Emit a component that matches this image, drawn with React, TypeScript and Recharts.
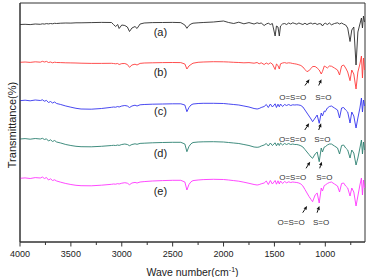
import React from 'react';
import {
  LineChart,
  Line,
  XAxis,
  YAxis,
  ReferenceArea,
  ReferenceDot,
  ReferenceLine,
} from 'recharts';

// Wavenumber grid (cm-1), shared by all five spectra
const WAVENUMBERS = [
  4000, 3950, 3900, 3850, 3800, 3780, 3760, 3740, 3720, 3700,
  3680, 3660, 3640, 3600, 3550, 3500, 3450, 3400, 3300, 3200,
  3100, 3082, 3060, 3040, 3026, 3000, 2970, 2945, 2924, 2900,
  2870, 2850, 2820, 2780, 2700, 2600, 2500, 2420, 2380, 2360,
  2340, 2320, 2300, 2250, 2200, 2100, 2000, 1950, 1900, 1850,
  1800, 1750, 1700, 1670, 1650, 1630, 1601, 1580, 1560, 1540,
  1520, 1493, 1480, 1465, 1452, 1440, 1420, 1400, 1380, 1360,
  1340, 1320, 1300, 1280, 1260, 1240, 1220, 1200, 1180, 1160,
  1140, 1125, 1100, 1080, 1060, 1040, 1028, 1010, 1000, 980,
  960, 940, 910, 880, 860, 840, 820, 800, 780, 757,
  740, 720, 698, 680, 660, 645, 635, 625, 615,
];

// Transmittance (offset, arbitrary units) of each sample
const SPECTRUM_A = [
  217.5, 217.7, 217.4, 218, 217.7, 218.2, 217.9, 218.4, 218.1, 218.5,
  218.2, 218.7, 218.5, 218.8, 219, 218.9, 219.2, 219.2, 219.4, 219.6,
  219.5, 217.5, 215.5, 217.5, 213.5, 217, 216.5, 215, 210.5, 214,
  215.5, 213.5, 218, 219, 219.4, 219.5, 219.6, 219.4, 217, 213.7,
  216.5, 218, 218.8, 219.2, 219.5, 220, 221, 219.5, 218.5, 219.8,
  218.2, 219.4, 218, 219.2, 218.5, 219, 216.5, 218, 218.8, 217.5,
  218.5, 206, 216, 215, 206, 216, 218, 218.5, 217.5, 219,
  218, 219.2, 218.5, 217.8, 219, 218.2, 217.5, 218.8, 217.4, 218.5,
  219, 218, 218.8, 217.5, 218.4, 218, 216, 218.4, 218.8, 217.5,
  219, 217.2, 218.5, 219.2, 218, 219, 217.8, 217, 214, 200.5,
  212, 215, 177, 210, 218, 224, 214, 226, 220,
];

const SPECTRUM_B = [
  179.7, 180, 179.6, 180.2, 179.8, 180.7, 180, 180.6, 179.5, 180,
  179.2, 179.8, 179.5, 179.4, 179.2, 179.1, 179, 178.8, 178.6, 178.6,
  178.7, 178.5, 178.2, 178.5, 177.5, 178.4, 178.5, 177.5, 174.7, 177,
  177.8, 177, 178.6, 179, 179.2, 179.4, 179.5, 179.4, 178, 173,
  176, 177.5, 178.8, 179.7, 180, 180.3, 180.2, 180, 179.7, 179.5,
  179.2, 179.4, 178.8, 179.5, 178.2, 179.2, 177.5, 179, 177.8, 179.2,
  178, 172.5, 178, 176.5, 173, 178.2, 179, 179.4, 178.8, 179.2,
  179, 178.5, 178.2, 177.8, 177.2, 176.5, 175, 172.5, 170.3, 171.5,
  173.5, 175.5, 175.5, 174, 172, 168, 170.5, 176, 175.5, 174,
  176, 175.8, 174, 172, 167, 176, 177, 174, 170, 161.3,
  172, 168, 153, 170, 178, 186, 164, 184, 172,
];

const SPECTRUM_C = [
  141.3, 141.8, 141.2, 142, 141.5, 142.2, 140.8, 141.6, 139.5, 140.5,
  139, 140, 138.5, 137.5, 136, 134.8, 133.7, 133, 132.8, 133.5,
  134.7, 135, 134.8, 135.5, 135, 136, 136.5, 136, 134.5, 136,
  136.8, 136, 137.2, 137.5, 137.8, 138, 138.2, 138.2, 137, 130.3,
  134.5, 137, 138, 138.5, 138.7, 138.7, 138.5, 138, 137.5, 137,
  136, 135, 133.5, 133, 133.5, 134.5, 135.5, 137.5, 134.5, 138,
  135, 138.2, 134.5, 137.8, 135.2, 138, 135.5, 137.5, 136.5, 137.5,
  136.5, 137.2, 137, 137.2, 137, 136.5, 135, 132, 129, 126,
  123, 120.3, 124, 127, 118.7, 129, 126, 131, 130.3, 134,
  135.5, 136, 134, 132, 124, 134, 134.5, 132, 130, 119,
  130, 126, 114, 124, 134, 144, 130, 142, 136,
];

const SPECTRUM_D = [
  103, 103.4, 102.8, 103.5, 103, 103.7, 102.5, 103.2, 101, 102.2,
  100.5, 101.5, 100, 99, 97.5, 96.5, 95.7, 95.3, 95.2, 95.7,
  96.5, 96.7, 96.5, 97, 96.6, 97.5, 98, 97.5, 96.3, 97.5,
  98.2, 97.7, 98.6, 98.8, 99.2, 99.5, 99.7, 99.7, 98, 90.3,
  95.5, 98.2, 99.5, 100, 100.2, 100.3, 100, 99.5, 99, 98.5,
  97.5, 96.5, 95, 94.7, 95, 96, 97, 98.5, 96, 99,
  96.5, 99.2, 96.2, 98.8, 96.5, 99, 97, 98.5, 97.5, 98.5,
  97.5, 98, 97.5, 97.5, 97, 96.2, 95, 92.5, 90, 87.5,
  85, 83.7, 88, 90, 80.3, 94, 90, 95, 95.3, 97,
  98, 98, 96, 94, 88, 96.5, 97, 94, 92, 84,
  92, 89, 77, 84, 94, 102, 88, 100, 92,
];

const SPECTRUM_E = [
  63.7, 64.1, 63.5, 64.4, 64, 65, 63.5, 64.5, 62, 63.2,
  61.5, 62.2, 61, 59.8, 58.5, 57.5, 56.7, 56.3, 56.2, 56.8,
  57.7, 58, 57.8, 58.4, 58, 58.8, 59.3, 58.8, 57.3, 59,
  59.6, 59, 60, 60.4, 61, 61.4, 61.7, 61.7, 60, 52,
  57.5, 60.2, 61.4, 62, 62.4, 62.7, 62.5, 62, 61.4, 60.8,
  59.8, 58.7, 57.5, 57, 57.4, 58.2, 59, 61, 57.5, 61.5,
  58, 61.5, 57.8, 61.2, 58, 61, 58.5, 60.5, 59.2, 60.2,
  59.5, 60, 59.7, 59.5, 59, 58, 56, 52.5, 49, 45.5,
  42.5, 40.3, 47, 49, 39, 54, 51, 56.5, 57, 58.5,
  59.5, 60, 58, 56, 50, 58.5, 59, 56, 54, 46,
  54, 50, 36, 46, 57, 64, 47, 62, 54,
];

const SAMPLE_KEYS = ['a', 'b', 'c', 'd', 'e'];
const SAMPLE_LABELS = ['(a)', '(b)', '(c)', '(d)', '(e)'];
const SAMPLE_VALUES = [SPECTRUM_A, SPECTRUM_B, SPECTRUM_C, SPECTRUM_D, SPECTRUM_E];
const SAMPLE_COLORS = ['#2b2b2b', '#ff3b3b', '#3434ee', '#2b8070', '#ff36ff'];

// Where the sample tags sit (wavenumber, transmittance)
const TAG_WAVENUMBER = 2620;
const TAG_LEVELS = [210, 170, 131, 89.3, 51.3];

const X_TICKS = [4000, 3750, 3500, 3250, 3000, 2750, 2500, 2250, 2000, 1750, 1500, 1250, 1000, 750];

// Sulfonic-group band callouts for samples (b)-(e): text anchor and arrow tail -> tip
const BAND_NAMES = ['O=S=O', 'S=O'];
const BAND_TEXT = [
  [[1320, 145.5], [1019, 145.5]],
  [[1323, 103], [1029, 103]],
  [[1320, 64.7], [1009, 64.7]],
  [[1336, 20.3], [1041, 20.3]],
];
const BAND_ARROWS = [
  [[1200, 156.5, 1156, 162.7], [1065, 156.5, 1038, 162.7]],
  [[1202, 112, 1159, 118.7], [1065, 112, 1041, 118.7]],
  [[1189, 73.7, 1149, 80.3], [1055, 73.7, 1035, 80.3]],
  [[1222, 29.3, 1179, 36], [1081, 29.3, 1058, 36]],
];

const FONT = '"Liberation Sans", Arial, Helvetica, sans-serif';

const rows = WAVENUMBERS.map((w, i) => {
  const row: Record<string, number> = { w };
  SAMPLE_KEYS.forEach((k, s) => {
    row[k] = SAMPLE_VALUES[s][i];
  });
  return row;
});

const WaveTick = (props: any) => {
  const { x, y, payload } = props;
  const major = payload.value % 500 === 0;
  return (
    <g>
      <line x1={x} y1={y} x2={x} y2={y + (major ? 4.5 : 3)} stroke="#333" strokeWidth={1} />
      {major && (
        <text x={x} y={y + 15} textAnchor="middle" fontSize={9} fontFamily={FONT} fill="#222">
          {payload.value}
        </text>
      )}
    </g>
  );
};

const XTitle = (props: any) => {
  const vb = props.viewBox;
  return (
    <text
      x={vb.x + vb.width / 2}
      y={vb.y + 33.5}
      textAnchor="middle"
      fontSize={10.5}
      fontFamily={FONT}
      fill="#222"
    >
      Wave number(cm
      <tspan dy={-4} fontSize={7}>-1</tspan>
      <tspan dy={4}>)</tspan>
    </text>
  );
};

const YTitle = (props: any) => {
  const vb = props.viewBox;
  const cx = 15.5;
  const cy = vb.y + vb.height / 2 + 2.5;
  return (
    <text
      x={cx}
      y={cy}
      transform={`rotate(-90, ${cx}, ${cy})`}
      textAnchor="middle"
      fontSize={11}
      fontFamily={FONT}
      fill="#222"
    >
      Transmittance(%)
    </text>
  );
};

const Arrow = (props: any) => {
  const { x1, y1, x2, y2 } = props;
  const dx = x2 - x1;
  const dy = y2 - y1;
  const len = Math.sqrt(dx * dx + dy * dy) || 1;
  const ux = dx / len;
  const uy = dy / len;
  const head = 3.8;
  const half = 1.7;
  const bx = x2 - ux * head;
  const by = y2 - uy * head;
  return (
    <g>
      <line x1={x1} y1={y1} x2={bx} y2={by} stroke="#111" strokeWidth={1} />
      <polygon
        points={`${x2},${y2} ${bx - uy * half},${by + ux * half} ${bx + uy * half},${by - ux * half}`}
        fill="#111"
      />
    </g>
  );
};

export default function App() {
  return (
    <div style={{ position: 'absolute', left: 0, top: 0, width: 367, height: 277, background: '#fff' }}>
      <LineChart
        width={367}
        height={277}
        data={rows}
        margin={{ top: 3, right: 2, bottom: 0, left: 0 }}
      >
        <XAxis
          dataKey="w"
          type="number"
          domain={[610, 4000]}
          reversed
          ticks={X_TICKS}
          interval={0}
          height={35}
          tickSize={0}
          tickMargin={0}
          tickLine={false}
          tick={<WaveTick />}
          axisLine={{ stroke: '#333', strokeWidth: 1 }}
          allowDataOverflow
          label={{ content: <XTitle /> }}
        />
        <YAxis
          type="number"
          domain={[0, 239]}
          width={20}
          tick={false}
          tickLine={false}
          axisLine={{ stroke: '#333', strokeWidth: 1 }}
          allowDataOverflow
          label={{ content: <YTitle /> }}
        />
        <ReferenceArea x1={610} x2={4000} y1={0} y2={239} fill="none" stroke="#333" strokeWidth={1} />
        {SAMPLE_KEYS.map((k, s) => (
          <Line
            key={k}
            dataKey={k}
            type="linear"
            stroke={SAMPLE_COLORS[s]}
            strokeWidth={0.9}
            dot={false}
            isAnimationActive={false}
          />
        ))}
        {SAMPLE_LABELS.map((lab, s) => (
          <ReferenceDot
            key={lab}
            x={TAG_WAVENUMBER}
            y={TAG_LEVELS[s]}
            r={0}
            shape={(p: any) => (
              <text
                x={p.cx}
                y={p.cy}
                dy={4}
                textAnchor="middle"
                fontSize={11}
                fontFamily={FONT}
                fill="#222"
              >
                {lab}
              </text>
            )}
          />
        ))}
        {BAND_TEXT.map((pair, s) =>
          pair.map(([w, t], b) => (
            <ReferenceDot
              key={`t${s}${b}`}
              x={w}
              y={t}
              r={0}
              shape={(p: any) => (
                <text
                  x={p.cx}
                  y={p.cy}
                  dy={3}
                  textAnchor="middle"
                  fontSize={8}
                  fontFamily={FONT}
                  fill="#333"
                >
                  {BAND_NAMES[b]}
                </text>
              )}
            />
          ))
        )}
        {BAND_ARROWS.map((pair, s) =>
          pair.map(([w1, t1, w2, t2], b) => (
            <ReferenceLine
              key={`a${s}${b}`}
              segment={[
                { x: w1, y: t1 },
                { x: w2, y: t2 },
              ]}
              shape={<Arrow />}
            />
          ))
        )}
      </LineChart>
    </div>
  );
}
